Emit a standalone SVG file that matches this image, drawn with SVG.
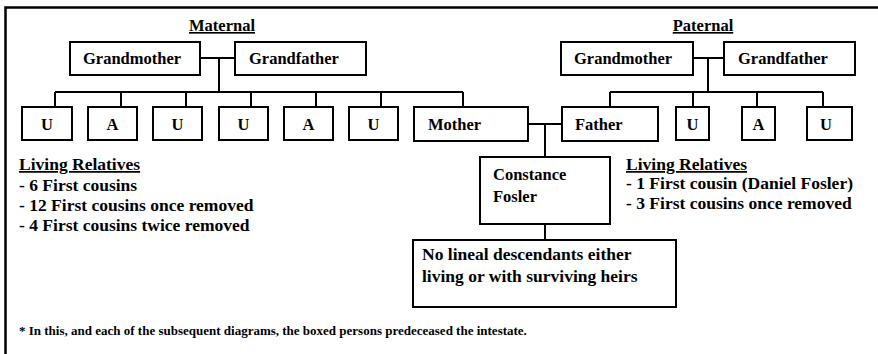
<svg xmlns="http://www.w3.org/2000/svg" width="878" height="354" viewBox="0 0 878 354">
  <style>
    .box { fill: #fff; stroke: #000; stroke-width: 2; }
    .ln { fill: none; stroke: #000; stroke-width: 2; }
    text { font-family: 'Liberation Serif', 'DejaVu Serif', 'Times New Roman', serif; font-weight: bold; fill: #000; }
    .lbl { font-size: 16.5px; }
    .rel { font-size: 17.5px; }
    .mid { text-anchor: middle; }
    .hd { font-size: 16.5px; text-decoration: underline; }
    .note { font-size: 13px; }
  </style>
  <rect width="878" height="354" fill="#fff"/>

  <!-- page frame (open at right and bottom) -->
  <path d="M5.5 354 V7.5 H878" fill="none" stroke="#000" stroke-width="2.5"/>

  <g font-family="Liberation Serif, DejaVu Serif, serif" font-weight="bold">
  <!-- side headings -->
  <text class="hd mid" x="222" y="31">Maternal</text>
  <text class="hd mid" x="703" y="31">Paternal</text>

  <!-- connectors -->
  <g id="connectors">
    <!-- maternal grandparents to children -->
    <path class="ln" d="M200 58 H235 M219 58 V92 M55 92 H463 M55 92 V107 M121 92 V107 M186 92 V107 M251 92 V107 M316 92 V107 M381 92 V107 M463 92 V107"/>
    <!-- paternal grandparents to children -->
    <path class="ln" d="M693 58 H724 M708 58 V92 M610 92 H823 M610 92 V107 M693 92 V107 M757 92 V107 M823 92 V107"/>
    <!-- parents to Constance -->
    <path class="ln" d="M528 124 H562 M545 124 V157"/>
    <!-- Constance to descendants note -->
    <path class="ln" d="M545 224 V240"/>
  </g>

  <!-- maternal side -->
  <g id="m-grandmother"><rect class="box" x="70" y="42" width="130" height="33"/><text class="lbl" x="83" y="64">Grandmother</text></g>
  <g id="m-grandfather"><rect class="box" x="235" y="42" width="131" height="33"/><text class="lbl" x="249" y="64">Grandfather</text></g>
  <g id="m-u1"><rect class="box" x="22" y="107" width="50" height="33"/><text class="lbl mid" x="47" y="130">U</text></g>
  <g id="m-a1"><rect class="box" x="88" y="107" width="49" height="33"/><text class="lbl mid" x="112.5" y="130">A</text></g>
  <g id="m-u2"><rect class="box" x="153" y="107" width="49" height="33"/><text class="lbl mid" x="177.5" y="130">U</text></g>
  <g id="m-u3"><rect class="box" x="219" y="107" width="49" height="33"/><text class="lbl mid" x="243.5" y="130">U</text></g>
  <g id="m-a2"><rect class="box" x="284" y="107" width="49" height="33"/><text class="lbl mid" x="308.5" y="130">A</text></g>
  <g id="m-u4"><rect class="box" x="349" y="107" width="49" height="33"/><text class="lbl mid" x="373.5" y="130">U</text></g>
  <g id="mother"><rect class="box" x="414" y="107" width="114" height="34"/><text class="lbl" x="428" y="130">Mother</text></g>

  <!-- paternal side -->
  <g id="p-grandmother"><rect class="box" x="561" y="42" width="132" height="33"/><text class="lbl" x="574" y="64">Grandmother</text></g>
  <g id="p-grandfather"><rect class="box" x="724" y="42" width="131" height="33"/><text class="lbl" x="738" y="64">Grandfather</text></g>
  <g id="father"><rect class="box" x="562" y="107" width="96" height="34"/><text class="lbl" x="575" y="130">Father</text></g>
  <g id="p-u1"><rect class="box" x="676" y="107" width="33" height="33"/><text class="lbl mid" x="692.5" y="130">U</text></g>
  <g id="p-a1"><rect class="box" x="742" y="107" width="33" height="33"/><text class="lbl mid" x="758.5" y="130">A</text></g>
  <g id="p-u2"><rect class="box" x="807" y="107" width="45" height="33"/><text class="lbl mid" x="826" y="130">U</text></g>

  <!-- intestate -->
  <g id="constance"><rect class="box" x="480" y="157" width="130" height="67"/><text class="lbl" x="493" y="180">Constance</text><text class="lbl" x="493" y="202">Fosler</text></g>
  <g id="descendants"><rect class="box" x="413" y="240" width="263" height="67"/><text class="rel" x="422" y="260" font-size="17">No lineal descendants either</text><text class="rel" x="422" y="282" font-size="17">living or with surviving heirs</text></g>

  <!-- living relatives lists -->
  <g id="maternal-relatives">
    <text class="rel" x="19" y="170" text-decoration="underline">Living Relatives</text>
    <text class="rel" x="19" y="191">- 6 First cousins</text>
    <text class="rel" x="19" y="211">- 12 First cousins once removed</text>
    <text class="rel" x="19" y="231">- 4 First cousins twice removed</text>
  </g>
  <g id="paternal-relatives">
    <text class="rel" x="626" y="170" text-decoration="underline">Living Relatives</text>
    <text class="rel" x="626" y="189">- 1 First cousin (Daniel Fosler)</text>
    <text class="rel" x="626" y="209">- 3 First cousins once removed</text>
  </g>

  <!-- footnote -->
  <text class="note" x="19" y="335">* In this, and each of the subsequent diagrams, the boxed persons predeceased the intestate.</text>
  </g>
</svg>
